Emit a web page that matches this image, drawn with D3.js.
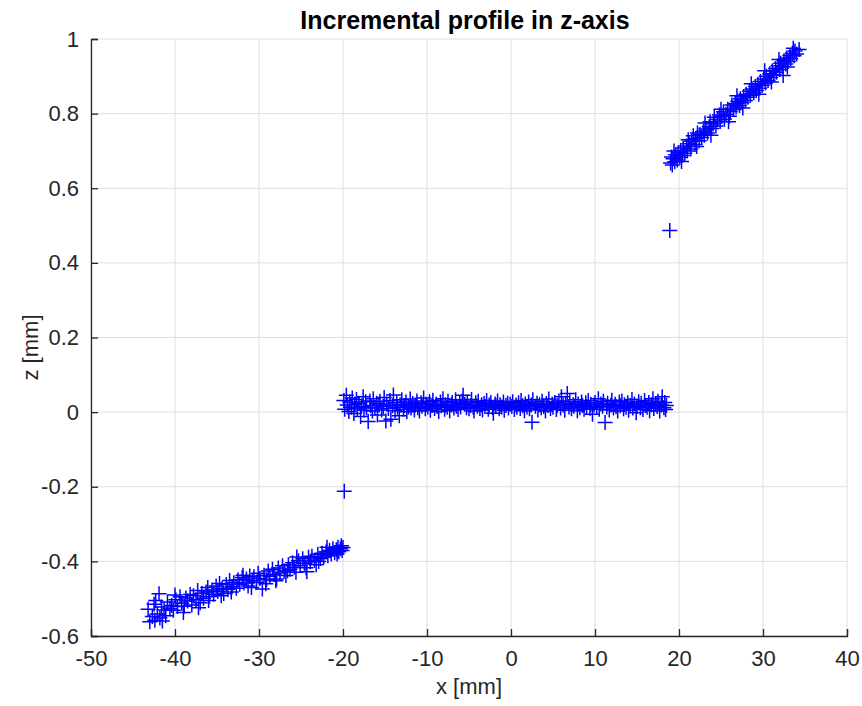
<!DOCTYPE html>
<html>
<head>
<meta charset="utf-8">
<script src="https://cdn.jsdelivr.net/npm/d3@7"></script>
<style>
  body { margin: 0; background: #fff; }
  text { font-family: "Liberation Sans", Arial, Helvetica, sans-serif; fill: #262626; }
</style>
</head>
<body>
<div id="chart"></div>
<script>
// incremental z profile, scatter of '+' markers

var xTicks = [-50, -40, -30, -20, -10, 0, 10, 20, 30, 40];
var zTicks = [-0.6, -0.4, -0.2, 0, 0.2, 0.4, 0.6, 0.8, 1];

// lower step, x [mm], z [mm]
var lowerStep = [
  [-43.2,-0.528],[-43.0,-0.562],[-42.7,-0.548],[-42.5,-0.515],[-42.4,-0.558],[-42.1,-0.541],[-41.9,-0.487],
  [-41.8,-0.552],[-41.6,-0.522],[-41.3,-0.530],[-41.1,-0.546],[-40.9,-0.509],[-40.6,-0.527],[-40.4,-0.518],
  [-40.2,-0.531],[-39.9,-0.503],[-39.7,-0.521],[-39.4,-0.495],[-39.2,-0.512],[-39.0,-0.537],[-38.7,-0.498],
  [-38.5,-0.506],[-38.2,-0.489],[-38.0,-0.517],[-37.8,-0.492],[-37.5,-0.503],[-37.3,-0.478],[-37.0,-0.511],
  [-36.8,-0.486],[-36.6,-0.499],[-36.3,-0.482],[-36.1,-0.470],[-35.9,-0.494],[-35.6,-0.477],[-35.4,-0.488],
  [-35.1,-0.466],[-34.9,-0.481],[-34.7,-0.459],[-34.4,-0.473],[-34.2,-0.486],[-33.9,-0.462],[-33.7,-0.475],
  [-33.5,-0.451],[-33.2,-0.468],[-33.0,-0.457],[-32.7,-0.472],[-32.5,-0.449],[-32.3,-0.461],[-32.0,-0.443],
  [-31.8,-0.458],[-31.5,-0.447],[-31.3,-0.466],[-31.1,-0.439],[-30.8,-0.452],[-30.6,-0.441],[-30.3,-0.456],
  [-30.1,-0.432],[-29.9,-0.446],[-29.6,-0.474],[-29.4,-0.437],[-29.1,-0.449],[-28.9,-0.426],[-28.7,-0.440],
  [-28.4,-0.421],[-28.2,-0.435],[-27.9,-0.447],[-27.7,-0.418],[-27.5,-0.431],[-27.2,-0.412],[-27.0,-0.426],
  [-26.8,-0.438],[-26.5,-0.409],[-26.3,-0.421],[-26.0,-0.404],[-25.8,-0.416],[-25.6,-0.429],[-25.3,-0.398],
  [-25.1,-0.411],[-24.8,-0.393],[-24.6,-0.405],[-24.4,-0.417],[-24.1,-0.389],[-23.9,-0.401],[-23.7,-0.386],
  [-23.4,-0.397],[-23.2,-0.409],[-23.0,-0.381],[-22.7,-0.392],[-22.5,-0.378],[-22.3,-0.389],[-22.0,-0.374],
  [-21.8,-0.385],[-21.6,-0.371],[-21.4,-0.380],[-21.2,-0.366],[-21.0,-0.377],[-20.8,-0.369],[-20.6,-0.362],
  [-20.5,-0.374],[-20.3,-0.366],[-20.2,-0.358],[-20.1,-0.371],[-20.0,-0.363],
  [-42.3,-0.505],[-41.5,-0.560],[-40.0,-0.490],[-38.9,-0.520],[-37.2,-0.524],[-36.0,-0.505],[-34.5,-0.492],
  [-33.3,-0.482],[-31.9,-0.437],[-30.9,-0.470],[-29.2,-0.460],[-28.0,-0.452],[-26.6,-0.425],[-25.5,-0.388],
  [-24.3,-0.428],[-22.9,-0.400],[-21.9,-0.362],[-20.7,-0.380]
];

// flat middle part
var plateau = [
  [-19.9,0.031],[-19.8,0.008],[-19.6,0.045],[-19.5,0.019],[-19.3,0.002],[-19.2,0.027],[-19.0,0.013],[-18.9,0.038],
  [-18.7,-0.004],[-18.6,0.021],[-18.4,0.034],[-18.3,0.009],[-18.1,0.024],[-17.9,-0.012],[-17.8,0.016],[-17.6,0.041],
  [-17.5,0.005],[-17.3,0.028],[-17.2,0.012],[-17.0,-0.025],[-16.8,0.030],[-16.7,0.018],[-16.5,0.003],[-16.4,0.036],
  [-16.2,0.011],[-16.0,0.024],[-15.9,-0.008],[-15.7,0.019],[-15.6,0.029],[-15.4,0.006],[-15.2,0.015],[-15.1,0.039],
  [-14.9,-0.024],[-14.8,0.022],[-14.6,0.010],[-14.4,0.031],[-14.3,-0.019],[-14.1,0.017],[-14.0,0.046],[-13.8,0.004],
  [-13.6,0.026],[-13.5,0.013],[-13.3,-0.010],[-13.2,0.020],[-13.0,0.033],[-12.8,0.008],[-12.7,0.018],[-12.5,0.027],
  [-12.4,0.001],[-12.2,0.014],[-12.0,0.035],[-11.9,0.011],[-11.7,0.023],[-11.5,0.006],[-11.4,0.019],[-11.2,0.030],
  [-11.1,0.012],[-10.9,0.003],[-10.7,0.025],[-10.6,0.016],[-10.4,0.038],[-10.2,0.009],[-10.1,0.021],[-9.9,0.014],
  [-9.7,0.028],[-9.6,0.005],[-9.4,0.018],[-9.3,0.032],[-9.1,0.010],[-8.9,0.022],[-8.8,0.015],[-8.6,0.002],
  [-8.4,0.027],[-8.3,0.017],[-8.1,0.036],[-7.9,0.008],[-7.8,0.020],[-7.6,0.013],[-7.5,0.029],[-7.3,0.004],
  [-7.1,0.019],[-7.0,0.026],[-6.8,0.011],[-6.6,0.033],[-6.5,0.016],[-6.3,0.007],[-6.1,0.024],[-6.0,0.014],
  [-5.8,0.030],[-5.7,0.045],[-5.5,0.021],[-5.3,0.012],[-5.2,0.027],[-5.0,0.009],[-4.8,0.018],[-4.7,0.034],
  [-4.5,0.013],[-4.4,0.003],[-4.2,0.025],[-4.0,0.016],[-3.9,0.029],[-3.7,0.010],[-3.5,0.020],[-3.4,0.006],
  [-3.2,0.023],[-3.1,0.015],[-2.9,0.031],[-2.7,0.008],[-2.6,0.019],[-2.4,0.026],[-2.2,0.012],[-2.1,-0.003],
  [-1.9,0.022],[-1.8,0.017],[-1.6,0.030],[-1.4,0.009],[-1.3,0.020],[-1.1,0.014],[-0.9,0.027],[-0.8,0.005],
  [-0.6,0.018],[-0.4,0.024],[-0.3,0.011],[-0.1,0.021],[0.1,0.015],[0.2,0.028],[0.4,0.007],[0.6,0.019],
  [0.7,0.013],[0.9,0.025],[1.1,0.010],[1.2,0.031],[1.4,0.017],[1.6,0.004],[1.7,0.022],[1.9,0.014],
  [2.1,0.027],[2.2,0.009],[2.4,0.019],[2.5,-0.027],[2.6,0.033],[2.9,0.016],[3.1,0.024],[3.2,0.006],
  [3.4,0.020],[3.6,0.012],[3.7,0.029],[3.9,0.015],[4.1,0.003],[4.2,0.023],[4.4,0.018],[4.5,0.035],
  [4.7,0.010],[4.9,0.021],[5.0,0.013],[5.2,0.026],[5.4,0.007],[5.5,0.017],[5.7,0.030],[5.9,0.011],
  [6.0,0.041],[6.2,0.019],[6.4,0.005],[6.5,0.024],[6.7,0.050],[6.9,0.014],[7.0,0.028],[7.2,0.009],
  [7.4,0.020],[7.5,0.016],[7.7,0.033],[7.9,0.004],[8.0,0.022],[8.2,0.012],[8.4,0.027],[8.5,0.018],
  [8.7,0.008],[8.9,0.025],[9.0,0.015],[9.2,0.031],[9.4,0.010],[9.5,0.021],[9.7,-0.006],[9.9,0.019],
  [10.0,0.026],[10.2,0.013],[10.4,0.036],[10.5,0.008],[10.7,0.022],[10.9,0.016],[11.0,0.029],[11.2,-0.028],
  [11.4,0.014],[11.5,0.024],[11.7,0.006],[11.9,0.019],[12.0,0.032],[12.2,0.011],[12.4,0.021],[12.5,0.015],
  [12.7,0.003],[12.9,0.027],[13.0,0.017],[13.2,0.030],[13.4,0.009],[13.5,0.020],[13.7,0.013],[13.9,0.025],
  [14.0,0.005],[14.2,0.018],[14.4,0.034],[14.5,0.011],[14.7,0.022],[14.9,-0.002],[15.0,0.016],[15.2,0.028],
  [15.4,0.012],[15.5,0.024],[15.7,0.007],[15.9,0.031],[16.0,0.018],[16.2,0.013],[16.4,0.026],[16.5,0.004],
  [16.7,0.020],[16.9,0.036],[17.0,0.010],[17.2,0.023],[17.4,0.015],[17.5,0.029],[17.7,0.003],[17.9,0.019],
  [18.0,0.041],[18.2,0.012],[18.3,0.026],[18.4,0.007],[18.5,0.018]
];

// upper step
var upperStep = [
  [19.0,0.668],[19.1,0.684],[19.2,0.662],[19.3,0.679],[19.5,0.671],[19.6,0.690],[19.8,0.676],[19.9,0.695],
  [20.1,0.683],[20.2,0.701],[20.4,0.688],[20.5,0.708],[20.7,0.694],[20.9,0.713],[21.0,0.700],[21.2,0.719],
  [21.4,0.705],[21.5,0.726],[21.7,0.741],[21.9,0.717],[22.0,0.733],[22.2,0.748],[22.4,0.727],[22.5,0.744],
  [22.7,0.736],[22.9,0.753],[23.0,0.742],[23.2,0.759],[23.4,0.748],[23.6,0.765],[23.7,0.778],[23.9,0.760],
  [24.1,0.773],[24.2,0.790],[24.4,0.767],[24.6,0.784],[24.8,0.796],[24.9,0.779],[25.1,0.792],[25.3,0.805],
  [25.4,0.785],[25.6,0.798],[25.8,0.812],[26.0,0.793],[26.1,0.806],[26.3,0.823],[26.5,0.811],[26.7,0.827],
  [26.8,0.818],[27.0,0.833],[27.2,0.822],[27.3,0.840],[27.5,0.829],[27.7,0.846],[27.9,0.835],[28.0,0.852],
  [28.2,0.844],[28.4,0.860],[28.5,0.849],[28.7,0.866],[28.9,0.856],[29.1,0.873],[29.2,0.862],[29.4,0.879],
  [29.6,0.868],[29.7,0.886],[29.9,0.876],[30.1,0.893],[30.3,0.882],[30.4,0.900],[30.6,0.889],[30.8,0.907],
  [30.9,0.897],[31.1,0.914],[31.3,0.904],[31.5,0.921],[31.6,0.911],[31.8,0.928],[32.0,0.918],[32.1,0.935],
  [32.3,0.926],[32.4,0.902],[32.5,0.942],[32.7,0.933],[32.8,0.949],[33.0,0.940],[33.2,0.956],[33.3,0.947],
  [33.5,0.962],[33.7,0.955],[33.8,0.968],[34.0,0.960],[34.3,0.972],
  [19.4,0.700],[20.3,0.672],[21.1,0.730],[22.1,0.712],[23.1,0.775],[23.8,0.742],[25.0,0.812],[25.9,0.778],
  [26.9,0.848],[27.6,0.815],[28.6,0.880],[29.5,0.852],[30.2,0.915],[31.0,0.885],[31.9,0.945],[32.9,0.925],
  [33.6,0.975]
];

// the two points on the steps
var transition = [[-19.85,-0.212],[18.9,0.487]];

var width = 862, height = 706;
var margin = {top: 39, right: 15, bottom: 70, left: 91};
var plotW = width - margin.left - margin.right,
    plotH = height - margin.top - margin.bottom;

var svg = d3.select("#chart").append("svg")
  .attr("width", width)
  .attr("height", height);

var g = svg.append("g")
  .attr("transform", "translate(" + margin.left + "," + margin.top + ")");

var x = d3.scaleLinear().domain([-50, 40]).range([0, plotW]);
var y = d3.scaleLinear().domain([-0.6, 1]).range([plotH, 0]);

// grid
g.append("g").selectAll("line").data(xTicks).enter().append("line")
  .attr("x1", function(d) { return x(d); }).attr("x2", function(d) { return x(d); })
  .attr("y1", 0).attr("y2", plotH)
  .style("stroke", "#dfdfdf").style("stroke-width", 1);
g.append("g").selectAll("line").data(zTicks).enter().append("line")
  .attr("y1", function(d) { return y(d); }).attr("y2", function(d) { return y(d); })
  .attr("x1", 0).attr("x2", plotW)
  .style("stroke", "#dfdfdf").style("stroke-width", 1);

// axes, ticks point inward like matlab, plain hyphen for minus
var xAxis = g.append("g")
  .attr("transform", "translate(0," + plotH + ")")
  .call(d3.axisBottom(x).tickValues(xTicks).tickSize(-7).tickPadding(14)
    .tickFormat(function(d) { return String(d); }));
var yAxis = g.append("g")
  .call(d3.axisLeft(y).tickValues(zTicks).tickSize(-7).tickPadding(12)
    .tickFormat(function(d) { return String(+d.toFixed(1)); }));

[xAxis, yAxis].forEach(function(ax) {
  ax.select(".domain").style("stroke", "#262626").style("stroke-width", 1.3);
  ax.selectAll(".tick line").style("stroke", "#262626").style("stroke-width", 1.3);
  ax.selectAll(".tick text").style("font-size", "22px").style("fill", "#262626")
    .style("font-family", "'Liberation Sans', Arial, Helvetica, sans-serif");
});

// markers
var plus = "M-7.5,0H7.5M0,-7.5V7.5";
var allPoints = lowerStep.concat(plateau, upperStep, transition);
g.append("g").selectAll("path").data(allPoints).enter().append("path")
  .attr("d", plus)
  .attr("transform", function(d) { return "translate(" + x(d[0]) + "," + y(d[1]) + ")"; })
  .style("fill", "none")
  .style("stroke", "#0000ff")
  .style("stroke-width", 1.5);

// title and labels
svg.append("text")
  .attr("x", margin.left + plotW / 2 - 4).attr("y", 29)
  .attr("text-anchor", "middle")
  .style("font-size", "25px").style("font-weight", "bold").style("fill", "#000")
  .text("Incremental profile in z-axis");

svg.append("text")
  .attr("x", margin.left + plotW / 2).attr("y", 694)
  .attr("text-anchor", "middle")
  .style("font-size", "22px")
  .text("x [mm]");

svg.append("text")
  .attr("transform", "translate(38," + (margin.top + plotH / 2 + 10) + ") rotate(-90)")
  .attr("text-anchor", "middle")
  .style("font-size", "22px")
  .text("z [mm]");
</script>
</body>
</html>
